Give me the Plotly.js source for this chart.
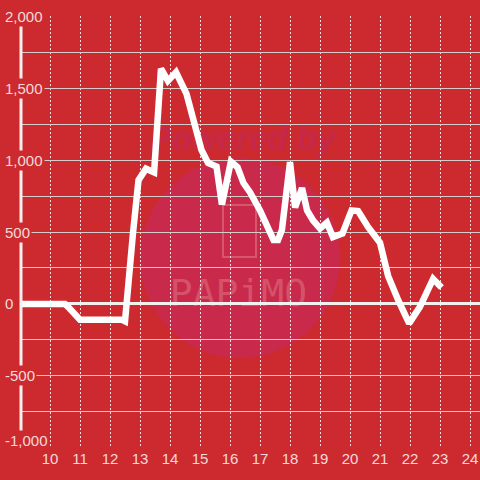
<!DOCTYPE html>
<html>
<head>
<meta charset="utf-8">
<script src="https://cdn.plot.ly/plotly-3.0.1.min.js"></script>
<style>html,body{margin:0;padding:0;background:#cd2a2f;}#chart{width:480px;height:480px;}</style>
</head>
<body>
<div id="chart"></div>
<script>
// Data
const hours = [9, 10.5, 10.6, 11, 12.4, 12.5, 12.77, 12.95, 13.2, 13.47, 13.7, 13.93, 14.2, 14.55, 15.05, 15.27, 15.55, 15.73, 16.03, 16.25, 16.45, 16.67, 17.0, 17.23, 17.45, 17.6, 17.73, 18.0, 18.17, 18.4, 18.57, 18.77, 19.0, 19.23, 19.43, 19.75, 20.05, 20.27, 20.6, 21.0, 21.27, 21.6, 21.97, 22.33, 22.6, 22.77, 23.05];
const values = [0, 0, -20, -110, -110, -120, 500, 860, 940, 915, 1635, 1550, 1610, 1460, 1070, 980, 955, 690, 990, 950, 840, 775, 650, 545, 445, 445, 515, 985, 670, 806, 650, 580, 525, 565, 465, 490, 650, 645, 535, 425, 195, 30, -135, -20, 115, 175, 115];
const xTicks = [10, 11, 12, 13, 14, 15, 16, 17, 18, 19, 20, 21, 22, 23, 24];
const yGrid = [-1000, -750, -500, -250, 0, 250, 500, 750, 1000, 1250, 1500, 1750, 2000];
const yLabels = [-1000, -500, 0, 500, 1000, 1500, 2000];

const bg = '#cd2a2f';
const txt = '#f3dada';
const W = 480, H = 480, ml = 20, mr = 0, mt = 16, mb = 32;
const pw = W - ml - mr, ph = H - mt - mb;
const px = v => (v - ml) / pw;          // pixel -> paper x
const py = v => (H - mb - v) / ph;      // pixel -> paper y

const yMin = Math.min(...yLabels);
const annotations = yLabels.map(v => ({
  xref: 'paper', yref: 'y', x: px(3), y: v, xanchor: 'left', yanchor: 'middle',
  yshift: v === yMin ? 7 : 0,
  text: v.toLocaleString('en-US'), showarrow: false, bgcolor: bg, borderpad: 1,
  font: {family: 'Liberation Sans, Arial, sans-serif', size: 15, color: txt}
}));

const shapes = [
  {type: 'circle', xref: 'paper', yref: 'paper', layer: 'below',
   x0: px(140), x1: px(340), y0: py(358), y1: py(158),
   fillcolor: '#c9294a', line: {width: 0}},
  {type: 'rect', xref: 'paper', yref: 'paper', layer: 'below',
   x0: px(223), x1: px(256), y0: py(257), y1: py(205),
   fillcolor: 'rgba(0,0,0,0)', line: {color: '#d6566c', width: 2}},
  {type: 'rect', xref: 'paper', yref: 'paper', layer: 'below',
   x0: px(145), x1: px(340), y0: py(152), y1: py(118),
   fillcolor: 'rgba(0,0,0,0)', line: {width: 0},
   label: {text: '<i><b>Powered by</b></i>', textposition: 'middle center',
     font: {family: 'Liberation Sans, Arial, sans-serif', size: 33, color: '#c6284a'}}},
  {type: 'rect', xref: 'paper', yref: 'paper', layer: 'below',
   x0: px(165), x1: px(312), y0: py(310), y1: py(270),
   fillcolor: 'rgba(0,0,0,0)', line: {width: 0},
   label: {text: 'PAPiMO', textposition: 'middle center',
     font: {family: 'DejaVu Sans Mono, monospace', size: 38, color: '#d4526a'}}},
  {type: 'line', xref: 'paper', yref: 'paper', layer: 'above',
   x0: px(21), x1: px(21), y0: 0, y1: 1,
   line: {color: '#f4f0f0', width: 3}}
];

const trace = {
  x: hours, y: values, type: 'scatter', mode: 'lines',
  line: {color: '#ffffff', width: 6.5}, cliponaxis: false, hoverinfo: 'skip'
};

const layout = {
  width: W, height: H,
  margin: {l: ml, r: mr, t: mt, b: mb, pad: 0},
  paper_bgcolor: bg, plot_bgcolor: bg,
  showlegend: false,
  font: {family: 'Liberation Sans, Arial, sans-serif', size: 15, color: txt},
  xaxis: {
    range: [9, 24.333], tickvals: xTicks, ticktext: xTicks.map(String),
    showgrid: true, gridcolor: '#eee2e2', gridwidth: 1, griddash: '2px,2px',
    zeroline: false, showline: false, ticks: '',
    tickfont: {family: 'Liberation Sans, Arial, sans-serif', size: 15, color: txt}
  },
  yaxis: {
    range: [-1001, 2001], tickvals: yGrid, showticklabels: false,
    showgrid: true, gridcolor: '#d6cccc', gridwidth: 1,
    zeroline: true, zerolinecolor: '#f4f0f0', zerolinewidth: 3,
    showline: false, ticks: ''
  },
  shapes: shapes,
  annotations: annotations
};

Plotly.newPlot('chart', [trace], layout, {displayModeBar: false, staticPlot: true});
</script>
</body>
</html>
